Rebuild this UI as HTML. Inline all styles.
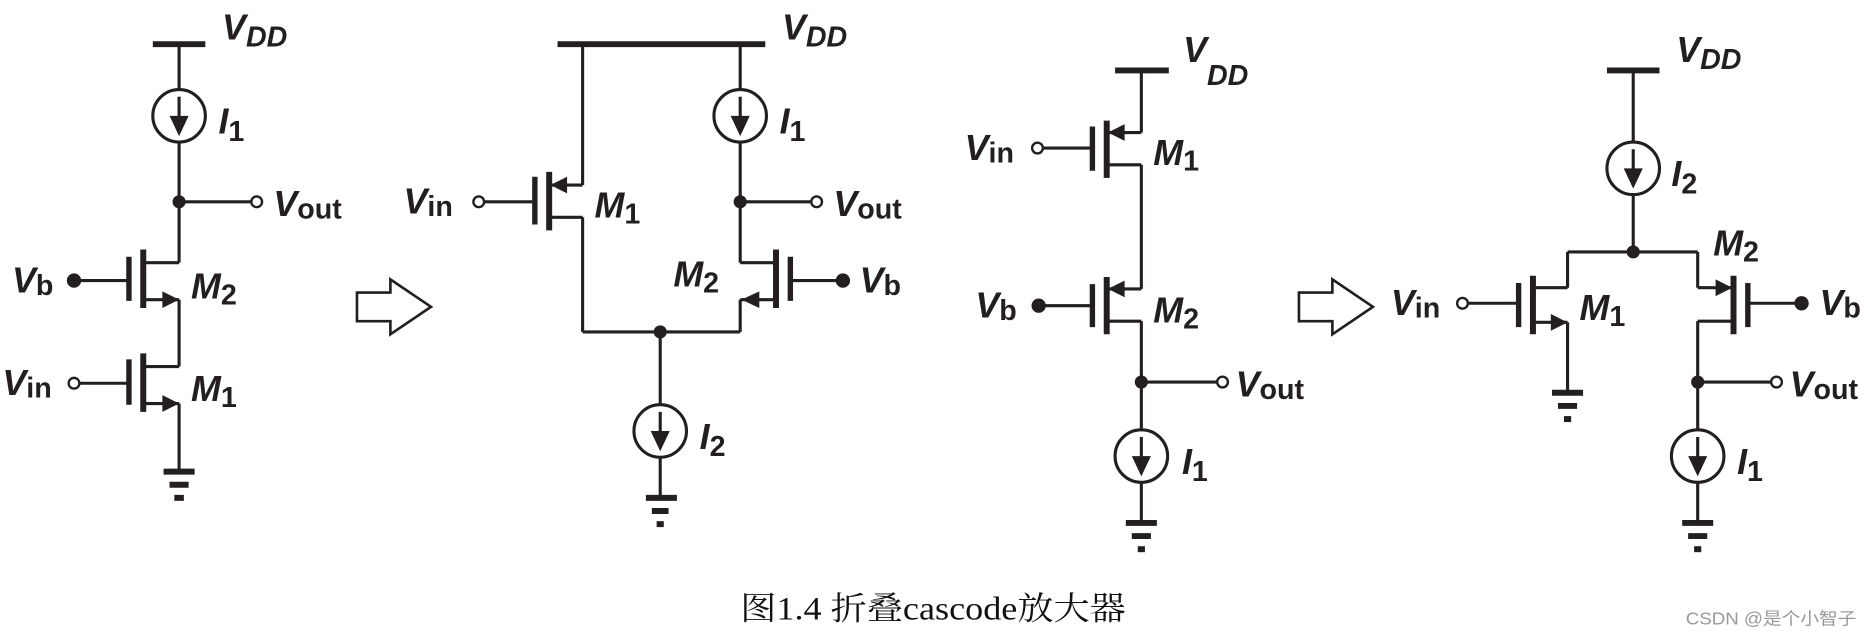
<!DOCTYPE html>
<html><head><meta charset="utf-8"><style>
html,body{margin:0;padding:0;background:#fff;width:1872px;height:636px;overflow:hidden}
svg{display:block}
.w{stroke:#231f20;stroke-width:2.6;fill:none}
.p{stroke:#231f20;stroke-width:4.5;fill:none}
.c{stroke:#231f20;stroke-width:5;fill:none}
.b{stroke:#231f20;stroke-width:5;fill:none}
.f{fill:#231f20}
.o{fill:#fff;stroke:#231f20;stroke-width:2}
text{font-family:"Liberation Sans",sans-serif;font-weight:bold;fill:#231f20}
.L{font-style:italic;font-size:30px}
.s{font-style:normal;font-size:24px}
.si{font-style:italic;font-size:24px}
</style></head><body>
<svg width="1872" height="636" viewBox="0 0 1568 532.7">
<!-- ===== Circuit 1 ===== -->
<line class="b" x1="128" y1="37" x2="172" y2="37"/>
<text x="186" y="33" class="L">V<tspan class="si" dy="6">DD</tspan></text>
<line class="w" x1="150" y1="37" x2="150" y2="220"/>
<circle cx="150" cy="97" r="22" fill="#fff" stroke="#231f20" stroke-width="2.6"/>
<line class="w" x1="150" y1="81" x2="150" y2="100"/><polygon class="f" points="142,97 158,97 150,114"/>
<text x="183" y="112" class="L">I<tspan class="s" dy="6">1</tspan></text>
<line class="w" x1="150" y1="169" x2="210" y2="169"/><circle cx="150" cy="169" r="5.5" class="f"/><circle cx="215" cy="169" r="4.5" class="o"/>
<text x="229" y="181" class="L">V<tspan class="s" dy="2">out</tspan></text>
<!-- M2 -->
<line class="w" x1="120" y1="220" x2="150" y2="220"/>
<line class="c" x1="120" y1="209" x2="120" y2="258"/>
<line class="p" x1="108" y1="215" x2="108" y2="252"/>
<line class="w" x1="62" y1="235" x2="108" y2="235"/><circle cx="62" cy="235" r="6" class="f"/>
<line class="w" x1="120" y1="251" x2="150" y2="251"/><polygon class="f" points="150,251 136,244 136,258"/>
<line class="w" x1="150" y1="251" x2="150" y2="307"/>
<text x="10" y="245" class="L">V<tspan class="s" dy="2">b</tspan></text>
<text x="160" y="250" class="L">M<tspan class="s" dy="5">2</tspan></text>
<!-- M1 -->
<line class="w" x1="120" y1="307" x2="150" y2="307"/>
<line class="c" x1="120" y1="296" x2="120" y2="345"/>
<line class="p" x1="108" y1="301" x2="108" y2="339"/>
<line class="w" x1="66" y1="321" x2="108" y2="321"/><circle cx="62" cy="321" r="4.5" class="o"/>
<line class="w" x1="120" y1="338" x2="150" y2="338"/><polygon class="f" points="150,338 136,331 136,345"/>
<line class="w" x1="150" y1="338" x2="150" y2="395"/>
<text x="2" y="331" class="L">V<tspan class="s" dy="2">in</tspan></text>
<text x="160" y="336" class="L">M<tspan class="s" dy="5">1</tspan></text>
<line class="b" x1="137" y1="395" x2="163" y2="395"/><line class="b" x1="142" y1="406" x2="158" y2="406"/><line class="b" x1="146" y1="417" x2="154" y2="417"/>

<!-- hollow arrow 1 -->
<polygon points="299,245 327,245 327,234 361,257 327,280 327,269 299,269" fill="#fff" stroke="#231f20" stroke-width="2.2"/>

<!-- ===== Circuit 2 ===== -->
<line class="b" x1="467" y1="37" x2="641" y2="37"/>
<text x="655" y="33" class="L">V<tspan class="si" dy="6">DD</tspan></text>
<line class="w" x1="488" y1="37" x2="488" y2="155"/>
<line class="w" x1="460" y1="155" x2="488" y2="155"/><polygon class="f" points="461,155 475,148 475,162"/>
<line class="c" x1="460" y1="144" x2="460" y2="193"/>
<line class="p" x1="448" y1="148" x2="448" y2="188"/>
<line class="w" x1="405" y1="169" x2="448" y2="169"/><circle cx="401" cy="169" r="4.5" class="o"/>
<text x="338" y="179" class="L">V<tspan class="s" dy="2">in</tspan></text>
<text x="498" y="182" class="L">M<tspan class="s" dy="5">1</tspan></text>
<line class="w" x1="460" y1="182" x2="488" y2="182"/>
<line class="w" x1="488" y1="182" x2="488" y2="278"/>
<line class="w" x1="488" y1="278" x2="620" y2="278"/>
<circle cx="553" cy="278" r="5.5" class="f"/>
<line class="w" x1="620" y1="37" x2="620" y2="220"/>
<circle cx="620" cy="97" r="22" fill="#fff" stroke="#231f20" stroke-width="2.6"/>
<line class="w" x1="620" y1="81" x2="620" y2="100"/><polygon class="f" points="612,97 628,97 620,114"/>
<text x="653" y="112" class="L">I<tspan class="s" dy="6">1</tspan></text>
<line class="w" x1="620" y1="169" x2="680" y2="169"/><circle cx="620" cy="169" r="5.5" class="f"/><circle cx="684" cy="169" r="4.5" class="o"/>
<text x="698" y="181" class="L">V<tspan class="s" dy="2">out</tspan></text>
<line class="w" x1="620" y1="220" x2="650" y2="220"/>
<line class="c" x1="650" y1="209" x2="650" y2="258"/>
<line class="p" x1="662" y1="215" x2="662" y2="252"/>
<line class="w" x1="662" y1="235" x2="706" y2="235"/><circle cx="706" cy="235" r="6" class="f"/>
<text x="720" y="245" class="L">V<tspan class="s" dy="2">b</tspan></text>
<line class="w" x1="620" y1="251" x2="650" y2="251"/><polygon class="f" points="621,251 636,244 636,258"/>
<line class="w" x1="620" y1="251" x2="620" y2="278"/>
<text x="564" y="240" class="L">M<tspan class="s" dy="5">2</tspan></text>
<line class="w" x1="553" y1="278" x2="553" y2="417"/>
<circle cx="553" cy="361" r="22" fill="#fff" stroke="#231f20" stroke-width="2.6"/>
<line class="w" x1="553" y1="345" x2="553" y2="364"/><polygon class="f" points="545,361 561,361 553,378"/>
<text x="586" y="376" class="L">I<tspan class="s" dy="6">2</tspan></text>
<line class="b" x1="541" y1="417" x2="567" y2="417"/><line class="b" x1="546" y1="428" x2="560" y2="428"/><line class="b" x1="550" y1="439" x2="556" y2="439"/>

<!-- ===== Circuit 3 ===== -->
<line class="b" x1="934" y1="59" x2="979" y2="59"/>
<text x="991" y="52" class="L">V</text><text x="1011" y="71" class="si">DD</text>
<line class="w" x1="956" y1="59" x2="956" y2="111"/>
<line class="w" x1="927" y1="111" x2="956" y2="111"/><polygon class="f" points="928,111 942,104 942,118"/>
<line class="c" x1="927" y1="101" x2="927" y2="149"/>
<line class="p" x1="915" y1="106" x2="915" y2="143"/>
<line class="w" x1="873" y1="124" x2="915" y2="124"/><circle cx="869" cy="124" r="4.5" class="o"/>
<text x="808" y="134" class="L">V<tspan class="s" dy="2">in</tspan></text>
<text x="966" y="138" class="L">M<tspan class="s" dy="5">1</tspan></text>
<line class="w" x1="927" y1="138" x2="956" y2="138"/>
<line class="w" x1="956" y1="138" x2="956" y2="242"/>
<line class="w" x1="927" y1="242" x2="956" y2="242"/><polygon class="f" points="928,242 942,235 942,249"/>
<line class="c" x1="927" y1="232" x2="927" y2="280"/>
<line class="p" x1="915" y1="238" x2="915" y2="274"/>
<line class="w" x1="870" y1="256" x2="915" y2="256"/><circle cx="870" cy="256" r="6" class="f"/>
<text x="817" y="266" class="L">V<tspan class="s" dy="2">b</tspan></text>
<text x="966" y="270" class="L">M<tspan class="s" dy="5">2</tspan></text>
<line class="w" x1="927" y1="269" x2="956" y2="269"/>
<line class="w" x1="956" y1="269" x2="956" y2="438"/>
<line class="w" x1="956" y1="320" x2="1020" y2="320"/><circle cx="956" cy="320" r="5.5" class="f"/><circle cx="1024" cy="320" r="4.5" class="o"/>
<text x="1035" y="332" class="L">V<tspan class="s" dy="2">out</tspan></text>
<circle cx="956" cy="382" r="22" fill="#fff" stroke="#231f20" stroke-width="2.6"/>
<line class="w" x1="956" y1="366" x2="956" y2="385"/><polygon class="f" points="948,382 964,382 956,399"/>
<text x="990" y="397" class="L">I<tspan class="s" dy="6">1</tspan></text>
<line class="b" x1="943" y1="438" x2="969" y2="438"/><line class="b" x1="948" y1="449" x2="964" y2="449"/><line class="b" x1="953" y1="460" x2="959" y2="460"/>

<!-- hollow arrow 2 -->
<polygon points="1088,245 1116,245 1116,234 1150,257 1116,280 1116,269 1088,269" fill="#fff" stroke="#231f20" stroke-width="2.2"/>

<!-- ===== Circuit 4 ===== -->
<line class="b" x1="1346" y1="59" x2="1390" y2="59"/>
<text x="1404" y="52" class="L">V<tspan class="si" dy="6">DD</tspan></text>
<line class="w" x1="1368" y1="59" x2="1368" y2="211"/>
<circle cx="1368" cy="141" r="22" fill="#fff" stroke="#231f20" stroke-width="2.6"/>
<line class="w" x1="1368" y1="125" x2="1368" y2="144"/><polygon class="f" points="1360,141 1376,141 1368,158"/>
<text x="1400" y="156" class="L">I<tspan class="s" dy="6">2</tspan></text>
<line class="w" x1="1313" y1="211" x2="1422" y2="211"/><circle cx="1368" cy="211" r="5.5" class="f"/>
<!-- M1 nmos -->
<line class="w" x1="1313" y1="211" x2="1313" y2="241"/>
<line class="w" x1="1284" y1="241" x2="1313" y2="241"/>
<line class="c" x1="1284" y1="231" x2="1284" y2="280"/>
<line class="p" x1="1272" y1="237" x2="1272" y2="274"/>
<line class="w" x1="1229" y1="254" x2="1272" y2="254"/><circle cx="1225" cy="254" r="4.5" class="o"/>
<text x="1165" y="264" class="L">V<tspan class="s" dy="2">in</tspan></text>
<text x="1323" y="268" class="L">M<tspan class="s" dy="5">1</tspan></text>
<line class="w" x1="1284" y1="270" x2="1313" y2="270"/><polygon class="f" points="1313,270 1299,263 1299,277"/>
<line class="w" x1="1313" y1="270" x2="1313" y2="329"/>
<line class="b" x1="1300" y1="329" x2="1326" y2="329"/><line class="b" x1="1305" y1="340" x2="1321" y2="340"/><line class="b" x1="1310" y1="351" x2="1316" y2="351"/>
<!-- M2 pmos -->
<line class="w" x1="1422" y1="211" x2="1422" y2="241"/>
<line class="w" x1="1422" y1="241" x2="1452" y2="241"/><polygon class="f" points="1451,241 1437,234 1437,248"/>
<line class="c" x1="1452" y1="231" x2="1452" y2="280"/>
<line class="p" x1="1464" y1="237" x2="1464" y2="274"/>
<line class="w" x1="1464" y1="254" x2="1509" y2="254"/><circle cx="1509" cy="254" r="6" class="f"/>
<text x="1524" y="264" class="L">V<tspan class="s" dy="2">b</tspan></text>
<text x="1435" y="214" class="L">M<tspan class="s" dy="5">2</tspan></text>
<line class="w" x1="1422" y1="269" x2="1452" y2="269"/>
<line class="w" x1="1422" y1="269" x2="1422" y2="438"/>
<line class="w" x1="1422" y1="320" x2="1484" y2="320"/><circle cx="1422" cy="320" r="5.5" class="f"/><circle cx="1488" cy="320" r="4.5" class="o"/>
<text x="1499" y="332" class="L">V<tspan class="s" dy="2">out</tspan></text>
<circle cx="1422" cy="382" r="22" fill="#fff" stroke="#231f20" stroke-width="2.6"/>
<line class="w" x1="1422" y1="366" x2="1422" y2="385"/><polygon class="f" points="1414,382 1430,382 1422,399"/>
<text x="1455" y="397" class="L">I<tspan class="s" dy="6">1</tspan></text>
<line class="b" x1="1409" y1="438" x2="1435" y2="438"/><line class="b" x1="1414" y1="449" x2="1430" y2="449"/><line class="b" x1="1419" y1="460" x2="1425" y2="460"/>

<!-- caption -->
<text x="620" y="519" textLength="323" lengthAdjust="spacingAndGlyphs" style="font-family:'Liberation Serif','Noto Serif CJK SC',serif;font-weight:normal;font-size:27px;fill:#111">图1.4 折叠cascode放大器</text>
<text x="1412" y="523" textLength="143" lengthAdjust="spacingAndGlyphs" style="font-family:'Liberation Sans','Noto Sans CJK SC',sans-serif;font-weight:normal;font-size:14.5px;fill:#999">CSDN @是个小智子</text>
</svg>
</body></html>
